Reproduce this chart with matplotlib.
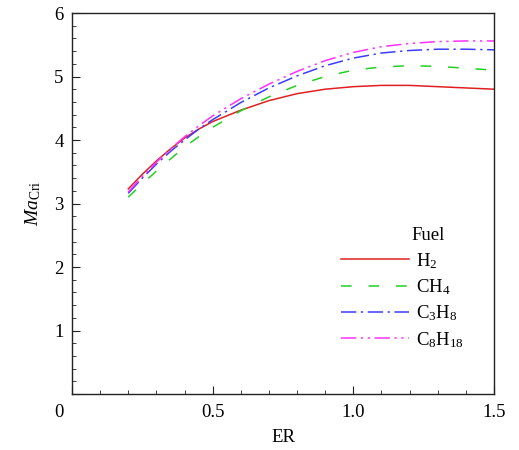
import matplotlib
matplotlib.use("Agg")
import matplotlib.pyplot as plt
from matplotlib.ticker import MultipleLocator

plt.rcParams['font.family'] = ['Liberation Serif', 'DejaVu Serif']
plt.rcParams['mathtext.fontset'] = 'custom'
plt.rcParams['mathtext.rm'] = 'Liberation Serif'
plt.rcParams['mathtext.it'] = 'Liberation Serif:italic'

# equivalence ratio
er = [0.2, 0.25, 0.3, 0.35, 0.4, 0.45, 0.5, 0.6, 0.7, 0.8, 0.9, 1.0, 1.1, 1.2, 1.3, 1.4, 1.5]

# critical Mach number per fuel
ma_h2 = [3.23, 3.46, 3.67, 3.86, 4.03, 4.17, 4.29, 4.47, 4.62, 4.73, 4.80, 4.84, 4.86, 4.86, 4.84, 4.82, 4.80]
ma_ch4 = [3.10, 3.31, 3.51, 3.70, 3.89, 4.05, 4.20, 4.46, 4.68, 4.86, 5.00, 5.10, 5.15, 5.17, 5.16, 5.13, 5.10]
ma_c3h8 = [3.16, 3.40, 3.62, 3.82, 4.00, 4.17, 4.32, 4.59, 4.82, 5.01, 5.17, 5.29, 5.37, 5.41, 5.43, 5.43, 5.42]
ma_c8h18 = [3.18, 3.43, 3.65, 3.86, 4.05, 4.22, 4.38, 4.65, 4.88, 5.08, 5.25, 5.38, 5.47, 5.52, 5.55, 5.56, 5.56]

labels = [r'H$_2$', r'CH$_4$', r'C$_3$H$_8$', r'C$_8$H$_{18}$']

fig = plt.figure(figsize=(5.19, 4.5), dpi=100)
ax = fig.add_axes([0.1387, 0.1244, 0.8131, 0.8467])

ax.plot(er, ma_h2, color='#e02020', lw=1.1, ls='-', label=labels[0])
ax.plot(er, ma_ch4, color='#22d022', lw=1.1, ls=(0, (7, 11)), label=labels[1])
ax.plot(er, ma_c3h8, color='#3c3cff', lw=1.1, ls=(0, (10, 3, 1.5, 3)), label=labels[2])
ax.plot(er, ma_c8h18, color='#ff30ff', lw=1.1, ls=(0, (10, 3, 1.5, 3, 1.5, 3)), label=labels[3])

ax.set_xlim(0, 1.5)
ax.set_ylim(0, 6)
ax.set_xticks([0, 0.5, 1.0, 1.5])
ax.set_xticklabels(['', '0.5', '1.0', '1.5'])
ax.set_yticks([0, 1, 2, 3, 4, 5, 6])
ax.set_yticklabels(['', '1', '2', '3', '4', '5', '6'])
ax.xaxis.set_minor_locator(MultipleLocator(0.1))
ax.yaxis.set_minor_locator(MultipleLocator(0.2))
ax.tick_params(which='both', direction='in', top=False, right=False, labelsize=13.5, color='#222222')
ax.tick_params(axis='x', which='major', length=5.5, pad=7)
ax.tick_params(axis='y', which='major', length=5.5, pad=6)
ax.tick_params(which='minor', length=3.2)
for s in ax.spines.values():
    s.set_linewidth(1.0)
    s.set_color('#222222')

# shared origin label
ax.annotate('0', xy=(0, 0), xycoords='axes fraction', xytext=(-9.5, -13.5),
            textcoords='offset points', ha='center', va='center', fontsize=13.5)

ax.set_xlabel('ER', fontsize=13.5, labelpad=6)
ax.set_ylabel(r'$\mathit{Ma}_{\mathrm{Cri}}$', fontsize=14, labelpad=8)

ax.text(0.845, 0.415, 'Fuel', transform=ax.transAxes, fontsize=13.5, ha='center', va='center')
ax.legend(loc='upper left', bbox_to_anchor=(0.62, 0.395), frameon=False, fontsize=13.5,
          handlelength=3.6, handletextpad=0.4, labelspacing=0.35, borderaxespad=0)

fig.savefig('out.png', dpi=100)
